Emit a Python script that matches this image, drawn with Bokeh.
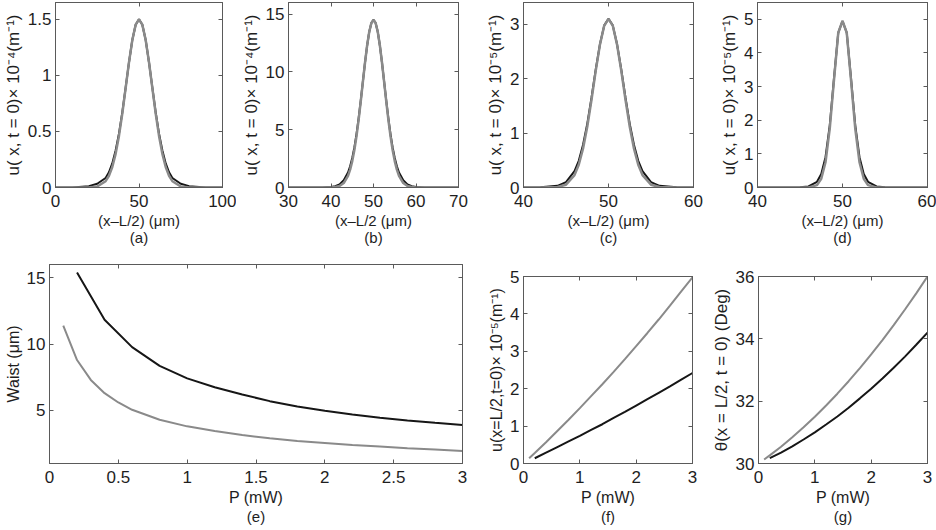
from bokeh.plotting import figure
from bokeh.models import Range1d, FixedTicker, LinearAxis
from bokeh.layouts import column, row
from bokeh.embed import file_html
from bokeh.resources import INLINE

# ---------------- data ----------------
xa = [0, 10, 20, 25, 30, 32, 34, 36, 38, 40, 42, 44, 46, 48, 50,
      52, 54, 56, 58, 60, 62, 64, 66, 68, 70, 75, 80, 90, 100]
gray_a = [0, 0, 0.001, 0.009, 0.056, 0.105, 0.183, 0.300, 0.46, 0.66, 0.887, 1.116, 1.315, 1.452, 1.5,
          1.452, 1.315, 1.116, 0.887, 0.66, 0.46, 0.300, 0.183, 0.105, 0.056, 0.009, 0.001, 0, 0]
black_a = [0, 0.001, 0.012, 0.033, 0.085, 0.135, 0.215, 0.33, 0.48, 0.67, 0.89, 1.115, 1.316, 1.452, 1.5,
           1.452, 1.316, 1.115, 0.89, 0.67, 0.48, 0.33, 0.215, 0.135, 0.085, 0.033, 0.012, 0.001, 0]

xb = [30, 35, 38, 40, 41, 42, 43, 44, 44.5, 45, 45.5, 46, 46.5, 47, 47.5, 48, 48.5, 49, 49.5, 50,
      50.5, 51, 51.5, 52, 52.5, 53, 53.5, 54, 54.5, 55, 55.5, 56, 57, 58, 59, 60, 62, 65, 70]
gray_b = [0, 0, 0, 0.009, 0.036, 0.128, 0.387, 1.01, 1.55, 2.28, 3.24, 4.44, 5.86, 7.45, 9.13,
          10.79, 12.28, 13.47, 14.23, 14.5,
          14.23, 13.47, 12.28, 10.79, 9.13, 7.45, 5.86, 4.44, 3.24, 2.28, 1.55, 1.01, 0.387,
          0.128, 0.036, 0.009, 0, 0, 0]
black_b = [0, 0, 0.007, 0.045, 0.11, 0.27, 0.62, 1.3, 1.84, 2.55, 3.46, 4.62, 5.98, 7.52, 9.16,
           10.8, 12.28, 13.47, 14.23, 14.5,
           14.23, 13.47, 12.28, 10.8, 9.16, 7.52, 5.98, 4.62, 3.46, 2.55, 1.84, 1.3, 0.62,
           0.27, 0.11, 0.045, 0.007, 0, 0]

xc = [40, 42, 44, 45, 46, 46.5, 47, 47.5, 48, 48.5, 49, 49.5, 50,
      50.5, 51, 51.5, 52, 52.5, 53, 53.5, 54, 55, 56, 58, 60]
gray_c = [0, 0, 0.009, 0.052, 0.228, 0.419, 0.714, 1.117, 1.613, 2.148, 2.63, 2.976, 3.1,
          2.976, 2.63, 2.148, 1.613, 1.117, 0.714, 0.419, 0.228, 0.052, 0.009, 0, 0]
black_c = [0, 0.003, 0.03, 0.10, 0.30, 0.49, 0.78, 1.17, 1.65, 2.17, 2.64, 2.98, 3.1,
           2.98, 2.64, 2.17, 1.65, 1.17, 0.78, 0.49, 0.30, 0.10, 0.03, 0.003, 0]

xd = [40, 43, 45, 46, 47, 47.5, 48, 48.5, 49, 49.5, 50,
      50.5, 51, 51.5, 52, 52.5, 53, 54, 55, 57, 60]
gray_d = [0, 0, 0, 0.003, 0.07, 0.26, 0.75, 1.75, 3.2, 4.6, 4.95,
          4.6, 3.2, 1.75, 0.75, 0.26, 0.07, 0.003, 0, 0, 0]
black_d = [0, 0, 0.005, 0.03, 0.17, 0.4, 0.9, 1.85, 3.25, 4.6, 4.95,
           4.6, 3.25, 1.85, 0.9, 0.4, 0.17, 0.03, 0.005, 0, 0]

p_gray = [0.1, 0.2, 0.3, 0.4, 0.5, 0.6, 0.8, 1.0, 1.2, 1.4, 1.6, 1.8, 2.0, 2.2, 2.4, 2.6, 2.8, 3.0]
waist_gray = [11.4, 8.8, 7.3, 6.3, 5.6, 5.05, 4.3, 3.8, 3.45, 3.15, 2.9, 2.7, 2.55, 2.4, 2.28, 2.15, 2.05, 1.95]
p_black = [0.2, 0.4, 0.6, 0.8, 1.0, 1.2, 1.4, 1.6, 1.8, 2.0, 2.2, 2.4, 2.6, 2.8, 3.0]
waist_black = [15.4, 11.84, 9.77, 8.36, 7.42, 6.75, 6.2, 5.7, 5.3, 4.97, 4.7, 4.45, 4.25, 4.07, 3.9]

pf_gray = [0.1, 0.2, 0.4, 0.6, 0.8, 1.0, 1.2, 1.4, 1.6, 1.8, 2.0, 2.2, 2.4, 2.6, 2.8, 3.0]
u_gray = [0.14, 0.28, 0.57, 0.87, 1.17, 1.48, 1.80, 2.12, 2.45, 2.79, 3.14, 3.49, 3.85, 4.22, 4.60, 4.98]
pf_black = [0.2, 0.4, 0.6, 0.8, 1.0, 1.2, 1.4, 1.6, 1.8, 2.0, 2.2, 2.4, 2.6, 2.8, 3.0]
u_black = [0.14, 0.29, 0.44, 0.59, 0.74, 0.90, 1.05, 1.22, 1.38, 1.55, 1.72, 1.89, 2.06, 2.24, 2.42]

theta_gray = [30.13, 30.26, 30.54, 30.84, 31.16, 31.50, 31.86, 32.24, 32.64, 33.06,
              33.50, 33.96, 34.44, 34.94, 35.46, 36.0]
theta_black = [30.17, 30.35, 30.55, 30.77, 31.0, 31.25, 31.51, 31.79, 32.09, 32.40,
               32.73, 33.07, 33.43, 33.81, 34.20]

# ticks
xt_a, xtl_a = [0, 50, 100], ["0", "50", "100"]
yt_a, ytl_a = [0, 0.5, 1, 1.5], ["0", "0.5", "1", "1.5"]
xt_b, xtl_b = [30, 40, 50, 60, 70], ["30", "40", "50", "60", "70"]
yt_b, ytl_b = [0, 5, 10, 15], ["0", "5", "10", "15"]
xt_c, xtl_c = [40, 50, 60], ["40", "50", "60"]
yt_c, ytl_c = [0, 1, 2, 3], ["0", "1", "2", "3"]
yt_d, ytl_d = [0, 1, 2, 3, 4, 5], ["0", "1", "2", "3", "4", "5"]
xt_e, xtl_e = [0, 0.5, 1, 1.5, 2, 2.5, 3], ["0", "0.5", "1", "1.5", "2", "2.5", "3"]
yt_e, ytl_e = [5, 10, 15], ["5", "10", "15"]
xt_f, xtl_f = [0, 1, 2, 3], ["0", "1", "2", "3"]
yt_g, ytl_g = [30, 32, 34, 36], ["30", "32", "34", "36"]

# ---------------- styling ----------------
FRAME = "#5a5a5a"
TEXT = "#1e1e1e"
BLACK = "#161616"
GRAY = "#8a8a8a"
FONT = "Liberation Sans"


def style_axis(ax, ticks, labels, show):
    ax.ticker = FixedTicker(ticks=[float(t) for t in ticks])
    ax.axis_line_color = FRAME
    ax.major_tick_line_color = FRAME
    ax.major_tick_in = 4
    ax.major_tick_out = 0
    ax.minor_tick_line_color = None
    if show:
        ax.major_label_overrides = {float(t): s for t, s in zip(ticks, labels)}
        ax.major_label_text_font = FONT
        ax.major_label_text_font_size = "17px"
        ax.major_label_text_color = TEXT
        ax.major_label_standoff = 7
        ax.axis_label_text_font = FONT
        ax.axis_label_text_font_size = "15px"
        ax.axis_label_text_font_style = "normal"
        ax.axis_label_text_color = TEXT
        ax.axis_label_standoff = 2
    else:
        ax.major_label_text_font_size = "0px"
        ax.major_label_text_color = None
        ax.major_label_standoff = 0


def panel(width, height, borders, xr, yr, xt, xtl, yt, ytl, xlabel, ylabel,
          tag, xlab_standoff, tag_standoff, ylab_size, xlab_size):
    l, r, t, b = borders
    p = figure(width=width, height=height, x_range=Range1d(*xr), y_range=Range1d(*yr),
               output_backend="svg", toolbar_location=None,
               min_border_left=l, min_border_right=r, min_border_top=t, min_border_bottom=b)
    p.grid.visible = False
    p.outline_line_color = FRAME
    p.background_fill_color = "white"
    p.border_fill_color = "white"
    p.add_layout(LinearAxis(), "right")
    p.add_layout(LinearAxis(), "above")
    style_axis(p.below[0], xt, xtl, True)
    style_axis(p.left[0], yt, ytl, True)
    style_axis(p.right[0], yt, ytl, False)
    style_axis(p.above[0], xt, xtl, False)
    p.left[0].major_label_standoff = 4
    p.left[0].axis_label_standoff = 2
    p.left[0].axis_label_text_font_size = ylab_size
    p.below[0].axis_label_text_font_size = xlab_size
    p.below[0].axis_label_standoff = xlab_standoff
    p.below[0].axis_label = xlabel
    p.left[0].axis_label = ylabel
    # sub-panel tag, drawn as the label of an extra tick-less axis below the x axis
    tag_axis = LinearAxis(ticker=FixedTicker(ticks=[]), axis_label=tag,
                          axis_line_color=None, major_tick_line_color=None,
                          minor_tick_line_color=None, major_tick_in=0, major_tick_out=0,
                          major_label_standoff=0,
                          axis_label_standoff=tag_standoff,
                          axis_label_text_font=FONT, axis_label_text_font_size="15px",
                          axis_label_text_font_style="normal", axis_label_text_color=TEXT)
    p.add_layout(tag_axis, "below")
    return p


XLAB = "(x\u2013L/2) (\u03bcm)"
YLAB4 = "u( x, t = 0)\u00d7 10\u207b\u2074(m\u207b\u00b9)"
YLAB5 = "u( x, t = 0)\u00d7 10\u207b\u2075(m\u207b\u00b9)"
PLAB = "P (mW)"

TOP_H = 250
BOT_H = 280

pa = panel(236, TOP_H, (53, 14, 2, 63), (0, 100), (0, 1.65), xt_a, xtl_a, yt_a, ytl_a,
           XLAB, YLAB4, "(a)", 2, -3, "17px", "15px")
pa.line(xa, black_a, line_color=BLACK, line_width=2)
pa.line(xa, gray_a, line_color=GRAY, line_width=2.5)

pb = panel(236, TOP_H, (52, 14, 2, 63), (30, 70), (0, 16), xt_b, xtl_b, yt_b, ytl_b,
           "(x\u2013L/2 (\u03bcm)", YLAB4, "(b)", 2, -3, "17px", "15px")
pb.line(xb, black_b, line_color=BLACK, line_width=2)
pb.line(xb, gray_b, line_color=GRAY, line_width=2.5)

pc = panel(236, TOP_H, (51, 15, 2, 63), (40, 60), (0, 3.4), xt_c, xtl_c, yt_c, ytl_c,
           XLAB, YLAB5, "(c)", 2, -3, "17px", "15px")
pc.line(xc, black_c, line_color=BLACK, line_width=2)
pc.line(xc, gray_c, line_color=GRAY, line_width=2.5)

pd_ = panel(228, TOP_H, (49, 9, 2, 63), (40, 60), (0, 5.5), xt_c, xtl_c, yt_d, ytl_d,
            XLAB, YLAB5, "(d)", 2, -3, "17px", "15px")
pd_.line(xd, black_d, line_color=BLACK, line_width=2)
pd_.line(xd, gray_d, line_color=GRAY, line_width=2.5)

pe = panel(472, BOT_H, (49, 10, 14, 67), (0, 3), (1, 16), xt_e, xtl_e, yt_e, ytl_e,
           PLAB, "Waist (\u03bcm)", "(e)", 3, -1, "16px", "16px")
pe.line(p_black, waist_black, line_color=BLACK, line_width=2)
pe.line(p_gray, waist_gray, line_color=GRAY, line_width=2)

pf = panel(236, BOT_H, (51, 16, 26, 67), (0, 3), (0, 5), xt_f, xtl_f, yt_d, ytl_d,
           PLAB, "u(x=L/2,t=0)\u00d7 10\u207b\u2075(m\u207b\u00b9)", "(f)", 3, -1, "16px", "16px")
pf.line(pf_black, u_black, line_color=BLACK, line_width=2)
pf.line(pf_gray, u_gray, line_color=GRAY, line_width=2)

pg = panel(228, BOT_H, (49, 9, 26, 67), (0, 3), (30, 36), xt_f, xtl_f, yt_g, ytl_g,
           PLAB, "\u03b8(x = L/2, t = 0) (Deg)", "(g)", 3, -1, "17px", "16px")
pg.line(pf_black, theta_black, line_color=BLACK, line_width=2)
pg.line(pf_gray, theta_gray, line_color=GRAY, line_width=2)

top_row = row(pa, pb, pc, pd_, spacing=0)
# (e) sits in its own box so that its frame is not aligned with those of (f) and (g)
bottom_row = row(column(pe, spacing=0), row(pf, pg, spacing=0), spacing=0)
layout = column(top_row, bottom_row, spacing=0)

open("out.html", "w").write(file_html(layout, INLINE))
